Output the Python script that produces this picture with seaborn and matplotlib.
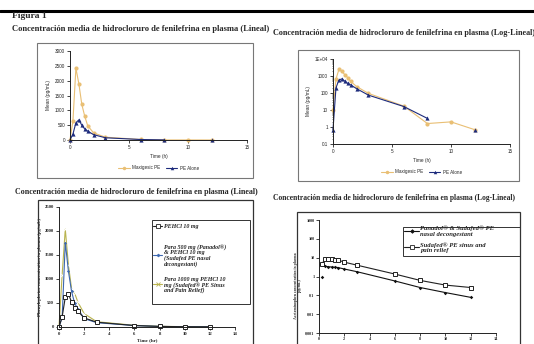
import matplotlib
matplotlib.use("Agg")
import matplotlib.pyplot as plt
from matplotlib.lines import Line2D
from matplotlib.patches import Rectangle
import seaborn as sns

sns.set_style("ticks")
plt.rcParams["font.family"] = ["Liberation Serif", "DejaVu Serif"]

W, H = 534, 344

# --- Top panels: Maxigesic PE vs PE alone (pg/mL)
time_ab = [0, 0.25, 0.5, 0.75, 1, 1.25, 1.5, 2, 3, 6, 8, 10, 12]
maxigesic = [10, 650, 2420, 1900, 1200, 800, 480, 240, 95, 17, 1.6, 2.0, 0.7]
time_pe = [0, 0.25, 0.5, 0.75, 1, 1.25, 1.5, 2, 3, 6, 8, 12]
pe_alone = [0.7, 200, 580, 680, 500, 370, 300, 180, 75, 16, 3.2, 0.7]
pe_alone_seg = [0] * 11 + [1]
legend_ab = ["Maxigesic PE", "PE Alone"]

# --- Bottom left: phenylephrine (pg/mL)
time_c = [0, 0.25, 0.5, 0.75, 1, 1.25, 1.5, 2, 3, 6, 8, 10, 12]
pehcl = [0, 210, 620, 690, 520, 400, 330, 190, 100, 30, 12, 6, 4]
para500 = [0, 200, 1760, 1160, 740, 490, 380, 175, 90, 30, 12, 6, 4]
para1000 = [0, 1090, 2040, 1290, 800, 700, 520, 280, 110, 35, 14, 7, 4]
legend_c = [
    "PEHCl 10 mg",
    "Para 500 mg (Panadol®)\n& PEHCl 10 mg\n(Sudafed PE nasal\ndecongestant)",
    "Para 1000 mg PEHCl 10\nmg (Sudafed® PE Sinus\nand Pain Relief)",
]

# --- Bottom right: acetaminophen (ug/mL)
time_d = [0.25, 0.5, 0.75, 1, 1.25, 1.5, 2, 3, 6, 8, 10, 12]
panadol = [0.9, 3.5, 3.3, 3.2, 3.1, 3.0, 2.5, 1.8, 0.58, 0.26, 0.14, 0.078]
panadol_seg = [0] + [1] * 11
sinus = [4.9, 8.5, 8.4, 8.1, 7.9, 7.5, 5.8, 4.0, 1.35, 0.62, 0.35, 0.26]
legend_d = [
    "Panadol® & Sudafed® PE\nnasal decongestant",
    "Sudafed® PE sinus and\npain relief",
]

titles = [
    "Concentración media de hidrocloruro de fenilefrina en plasma (Lineal)",
    "Concentración media de hidrocloruro de fenilefrina en plasma (Log-Lineal)",
]

ORANGE = "#e9bf74"
NAVY = "#1d2b7c"
BLUE = "#3d68b0"
OLIVE = "#b9b450"
SANS = ["Liberation Sans", "DejaVu Sans"]


def fx(x):
    return x / W


def fy(y):
    return 1 - y / H


def ax_at(x0, y0, x1, y1):
    return fig.add_axes([fx(x0), fy(y1), (x1 - x0) / W, (y1 - y0) / H])


def frame(x0, y0, x1, y1, color, lw):
    fig.add_artist(Rectangle((fx(x0), fy(y1)), (x1 - x0) / W, (y1 - y0) / H,
                             fill=False, ec=color, lw=lw, transform=fig.transFigure))


def style_axes(ax, family, size, weight="normal", pad=1.5):
    sns.despine(ax=ax)
    for s in ("left", "bottom"):
        ax.spines[s].set_linewidth(0.7)
        ax.spines[s].set_color("#222222")
    ax.tick_params(length=2, width=0.6, pad=pad, labelsize=size, colors="#222222")
    ax.tick_params(which="minor", length=1, width=0.4)
    for t in ax.get_xticklabels() + ax.get_yticklabels():
        t.set_family(family)
        t.set_weight(weight)


def legend_item(x0, x1, y, color, marker, mfc, ms, label, tx, size, ls):
    fig.add_artist(Line2D([fx(x0), fx(x1)], [fy(y), fy(y)], color=color, lw=0.8,
                          transform=fig.transFigure))
    fig.add_artist(Line2D([fx((x0 + x1) / 2)], [fy(y)], color=color, marker=marker,
                          mfc=mfc, mec=color, ms=ms, mew=0.6, transform=fig.transFigure))
    fig.text(fx(tx), fy(y), label, fontsize=size, weight="bold", style="italic",
             va="center_baseline", ha="left", linespacing=ls)


fig = plt.figure(figsize=(W / 100, H / 100), dpi=100)

# page decorations
fig.add_artist(Line2D([0, 1], [fy(10.8), fy(10.8)], color="black", lw=2.2,
                      transform=fig.transFigure))
fig.text(fx(12), fy(16.3), "Figura 1", fontsize=6.8, weight="bold", va="center")
fig.text(fx(12), fy(29.3), titles[0], fontsize=6.15, weight="bold", va="center")
fig.text(fx(273), fy(33.3), titles[1], fontsize=5.85, weight="bold", va="center")
fig.text(fx(15), fy(191.7), titles[0], fontsize=5.8, weight="bold", va="center")
fig.text(fx(273), fy(197.7), titles[1], fontsize=5.45, weight="bold", va="center")

frame(37, 43, 253, 178, "#777777", 0.8)
frame(298, 50, 519, 181, "#777777", 0.8)
frame(38, 200, 253, 350, "#333333", 0.9)
frame(297, 212, 520, 350, "#333333", 0.9)

# --- Panels A/B: linear and log-linear
for (x0, y0, x1, y1), log in (((70, 51, 247, 140), False), ((333, 59, 510, 144), True)):
    ax = ax_at(x0, y0, x1, y1)
    sns.lineplot(x=time_ab, y=maxigesic, ax=ax, color=ORANGE, marker="o", ms=3,
                 mew=0, lw=0.8, clip_on=False)
    sns.lineplot(x=time_pe, y=pe_alone, units=pe_alone_seg, estimator=None, ax=ax,
                 color=NAVY, marker="^", ms=3, mew=0, lw=0.8, clip_on=False)
    ax.set_xlim(0, 15)
    ax.set_xticks([0, 5, 10, 15])
    if log:
        ax.set_yscale("log")
        ax.set_ylim(0.1, 1e4)
        ax.set_yticks([0.1, 1, 10, 100, 1000, 1e4],
                      ["0.1", "1", "10", "100", "1000", "1E+04"])
    else:
        ax.set_ylim(0, 3000)
        ax.set_yticks(range(0, 3001, 500))
    style_axes(ax, SANS, 3.3)
    ax.set_xlabel("Time (h)", fontsize=3.4, family=SANS, labelpad=3)
    ax.set_ylabel("Mean (pg/mL)", fontsize=3.4, family=SANS, labelpad=3)
    handles = [Line2D([], [], color=ORANGE, marker="o", ms=2.5, mew=0, lw=0.8),
               Line2D([], [], color=NAVY, marker="^", ms=2.5, mew=0, lw=0.8)]
    fig.legend(handles, legend_ab, loc="center", ncol=2, frameon=False,
               bbox_to_anchor=(fx((x0 + x1) / 2), fy(y1 + 28)),
               prop={"family": SANS, "size": 3.3}, handlelength=2.5,
               columnspacing=1.2, handletextpad=0.5)

# --- Panel C: phenylephrine linear
ax = ax_at(59, 207, 235, 327)
sns.lineplot(x=time_c, y=para1000, ax=ax, color=OLIVE, marker="x", ms=2.5,
             mew=0.6, lw=0.8, clip_on=False)
sns.lineplot(x=time_c, y=para500, ax=ax, color=BLUE, marker="D", ms=1.6,
             mew=0, lw=0.8, clip_on=False)
sns.lineplot(x=time_c, y=pehcl, ax=ax, color="#222222", marker="s", ms=3.2,
             mfc="white", mec="#222222", mew=0.7, lw=0.8, clip_on=False)
ax.set_xlim(0, 14)
ax.set_ylim(0, 2500)
ax.set_xticks(range(0, 15, 2))
ax.set_yticks(range(0, 2501, 500))
style_axes(ax, ["Liberation Serif"], 3.4, "bold")
ax.set_xlabel("Time (hr)", fontsize=3.6, weight="bold", labelpad=1.5)
ax.set_ylabel("Phenylephrine concentration in plasma (pg/mL)", fontsize=3.4,
              weight="bold", labelpad=2)

frame(152, 220, 250, 304, "#333333", 0.7)
legend_item(153, 162, 225.7, "#222222", "s", "white", 2.6, legend_c[0], 163.5, 4.3, 0.98)
legend_item(153, 162, 255, BLUE, "D", BLUE, 1.4, legend_c[1], 163.5, 4.3, 0.98)
legend_item(153, 162, 284.3, OLIVE, "x", OLIVE, 2.2, legend_c[2], 163.5, 4.3, 0.98)

# --- Panel D: acetaminophen log-linear
ax = ax_at(319, 220, 496, 333)
sns.lineplot(x=time_d, y=sinus, ax=ax, color="#222222", marker="s", ms=3,
             mfc="white", mec="#222222", mew=0.7, lw=0.8, clip_on=False)
sns.lineplot(x=time_d, y=panadol, units=panadol_seg, estimator=None, ax=ax,
             color="#111111", marker="D", ms=1.8, mew=0, lw=0.8, clip_on=False)
ax.set_yscale("log")
ax.set_xlim(0, 14)
ax.set_ylim(0.001, 1000)
ax.set_xticks(range(0, 15, 2))
ax.set_yticks([0.001, 0.01, 0.1, 1, 10, 100, 1000],
              ["0,001", "0,01", "0,1", "1", "10", "100", "1000"])
ax.minorticks_off()
style_axes(ax, ["Liberation Serif"], 3.1, "bold", pad=1.2)
ax.set_ylabel("Acetaminophen concentration in plasma\n(µg/mL)", fontsize=2.8,
              weight="bold", linespacing=0.9)
ax.yaxis.set_label_coords((301.5 - 319) / 177, 0.42)

frame(403, 227, 520, 256, "#333333", 0.7)
legend_item(404, 419, 230.5, "#111111", "D", "#111111", 1.8, legend_d[0], 420, 4.8, 1.2)
legend_item(404, 419, 246.7, "#222222", "s", "white", 2.6, legend_d[1], 420, 4.8, 1.2)

fig.savefig("out.png", dpi=100, facecolor="white")
